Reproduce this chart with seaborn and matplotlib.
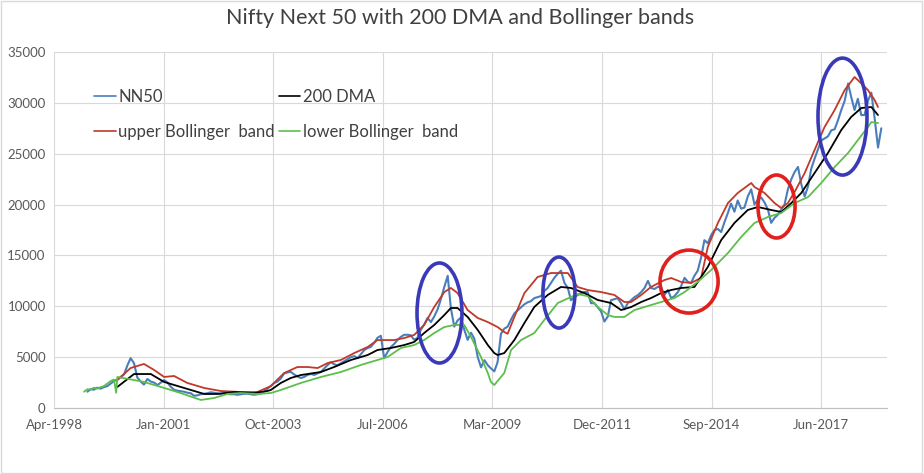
import pandas as pd
import numpy as np
import matplotlib
matplotlib.use("Agg")
import matplotlib.pyplot as plt
import matplotlib.dates as mdates
from matplotlib.patches import Ellipse, Rectangle
import seaborn as sns

# ---- DATA ----
# NN50 monthly closes, Jan-1999 .. Nov-2018
nn50 = [
    1600, 1850, 1800, 2000, 1900, 2050, 2150, 2400, 2650, 2800, 3050, 3300,      # 1999
    4200, 4900, 4400, 3000, 2600, 2300, 2850, 2600, 2500, 2250, 2500, 2750,      # 2000
    2500, 2100, 1800, 1700, 1650, 1600, 1500, 1450, 1200, 1250, 1350, 1400,      # 2001
    1450, 1550, 1500, 1450, 1400, 1450, 1400, 1350, 1350, 1300, 1350, 1400,      # 2002
    1400, 1350, 1300, 1350, 1450, 1600, 1900, 2150, 2450, 2600, 2900, 3400,      # 2003
    3500, 3550, 3300, 3100, 2950, 3050, 3250, 3350, 3250, 3400, 3550, 3900,      # 2004
    4230, 4500, 4300, 4200, 4400, 4600, 4800, 5000, 5100, 4900, 5300, 5700,      # 2005
    5900, 6000, 6400, 6900, 7100, 4900, 5500, 6000, 6300, 6700, 7000, 7200,      # 2006
    7200, 7150, 6700, 6900, 7700, 8200, 8850, 8450, 9000, 9700, 10700, 11900,    # 2007
    13000, 9800, 8000, 8600, 8900, 7700, 6700, 7400, 6800, 5000, 4000, 4700,     # 2008
    4200, 3900, 3600, 4500, 7300, 7800, 8000, 8700, 9300, 9600, 9900, 10200,     # 2009
    10400, 10500, 10800, 10900, 11000, 11500, 11800, 12300, 12800, 13200, 13500, 12300,  # 2010
    11800, 10600, 10900, 11100, 11300, 11400, 11400, 10300, 10300, 9900, 9500, 8500,     # 2011
    9000, 10600, 10700, 10800, 10300, 9700, 10300, 10600, 10900, 11100, 11400, 11800,    # 2012
    12500, 11800, 11700, 11900, 11900, 11100, 11600, 10800, 11000, 11400, 12000, 12800,  # 2013
    12400, 12300, 13000, 13500, 14800, 16500, 16200, 17000, 17500, 17600, 17300, 18300,  # 2014
    19200, 20100, 19300, 20400, 19600, 19700, 20800, 21500, 20000, 20500, 20700, 20200,  # 2015
    19500, 18200, 18700, 19000, 19500, 20000, 21500, 22500, 23200, 23700, 22000, 20800,  # 2016
    21800, 23500, 24500, 25400, 26300, 26500, 26700, 27300, 27400, 28300, 29300, 30200,  # 2017
    31900, 30600, 29300, 30400, 28800, 28800, 30200, 31000, 28500, 25600, 27500,         # 2018
]

dma_months = ['1999-11', '2000-04', '2000-09', '2001-01', '2001-06', '2002-01', '2002-05',
              '2002-10', '2003-04', '2003-08', '2003-09', '2003-12', '2004-03', '2004-06',
              '2004-12', '2005-04', '2005-09', '2006-02', '2006-05', '2006-09', '2007-01',
              '2007-04', '2007-07', '2007-10', '2008-01', '2008-03', '2008-05', '2008-08',
              '2008-11', '2009-02', '2009-04', '2009-05', '2009-07', '2009-10', '2010-01',
              '2010-04', '2010-08', '2010-12', '2011-03', '2011-07', '2011-11', '2012-03',
              '2012-06', '2012-09', '2012-12', '2013-03', '2013-06', '2013-09', '2013-12',
              '2014-04', '2014-08', '2014-12', '2015-04', '2015-08', '2015-11', '2016-03',
              '2016-06', '2016-09', '2016-12', '2017-04', '2017-08', '2017-12', '2018-03',
              '2018-06', '2018-09', '2018-11']
dma_vals = [2070, 3340, 3340, 2560, 2070, 1380, 1380,
            1570, 1470, 1670, 1770, 2460, 2950, 3240,
            3540, 4030, 4720, 5210, 5700, 5900, 6190,
            6490, 7370, 8160, 9140, 9830, 9830, 8950,
            7670, 6190, 5400, 5210, 5400, 6680, 8360,
            9930, 11110, 11900, 11800, 11300, 10620, 10320,
            9630, 9930, 10420, 10810, 11300, 11600, 11800,
            11900, 13860, 16510, 18190, 19470, 19760, 19470,
            19270, 20150, 21140, 23100, 25070, 27330, 28610,
            29490, 29590, 28800]

upper_months = ['1999-11', '2000-03', '2000-07', '2000-10', '2001-01', '2001-04', '2001-08',
                '2002-01', '2002-06', '2002-12', '2003-05', '2003-09', '2004-01', '2004-05',
                '2004-08', '2004-11', '2005-02', '2005-06', '2005-10', '2006-02', '2006-05',
                '2006-10', '2007-01', '2007-04', '2007-07', '2007-10', '2008-01', '2008-03',
                '2008-05', '2008-08', '2008-11', '2009-02', '2009-05', '2009-07', '2009-08',
                '2009-10', '2010-01', '2010-05', '2010-09', '2011-02', '2011-05', '2011-08',
                '2011-12', '2012-04', '2012-07', '2012-09', '2012-12', '2013-03', '2013-07',
                '2013-09', '2013-12', '2014-03', '2014-06', '2014-08', '2014-11', '2015-02',
                '2015-05', '2015-09', '2015-10', '2016-01', '2016-04', '2016-06', '2016-08',
                '2016-10', '2017-01', '2017-04', '2017-07', '2017-10', '2018-01', '2018-04',
                '2018-05', '2018-08', '2018-10', '2018-11']
upper_vals = [2750, 3930, 4330, 3740, 3050, 3150, 2460,
              1970, 1670, 1570, 1570, 2150, 3440, 4030,
              4030, 3930, 4420, 4720, 5400, 6000, 6680,
              6680, 6880, 7180, 8160, 9930, 11400, 11800,
              11300, 9630, 8850, 8450, 7960, 7470, 7300,
              8950, 11300, 12880, 13270, 13270, 11900, 11600,
              11400, 11110, 10420, 10420, 11110, 11900, 12580,
              12780, 12390, 12290, 12800, 15830, 18190, 20150,
              21140, 22120, 21730, 21140, 20150, 19660, 20150,
              21240, 23100, 25360, 27620, 29290, 31260, 32540,
              32240, 31260, 30280, 29590]

# before the first 200 DMA value the lower band column simply repeats the index
lower_months = ['1999-01', '1999-02', '1999-03', '1999-04', '1999-05', '1999-06', '1999-07',
                '1999-08', '1999-09', '1999-10', '1999-11', '1999-11-04', '2000-04', '2000-07',
                '2001-01', '2001-06', '2001-12', '2002-04', '2002-08', '2002-12', '2003-05',
                '2003-09', '2003-12', '2004-06', '2004-12', '2005-06', '2005-12', '2006-05',
                '2006-08', '2006-12', '2007-04', '2007-07', '2007-10', '2008-01', '2008-04',
                '2008-07', '2008-09', '2008-12', '2009-02', '2009-03', '2009-04', '2009-07',
                '2009-09', '2009-12', '2010-04', '2010-07', '2010-11', '2011-03', '2011-05',
                '2011-08', '2011-11', '2012-02', '2012-04', '2012-07', '2012-10', '2013-01',
                '2013-05', '2013-10', '2014-01', '2014-05', '2014-09', '2015-02', '2015-06',
                '2015-10', '2016-02', '2016-06', '2016-10', '2017-02', '2017-06', '2017-10',
                '2018-02', '2018-05', '2018-08', '2018-09', '2018-11']
lower_vals = [1600, 1850, 1800, 2000, 1900, 2050, 2150,
              2400, 2650, 2800, 3050, 1500, 2750, 2560,
              1970, 1470, 790, 980, 1380, 1470, 1380,
              1470, 1770, 2460, 3050, 3540, 4230, 4720,
              5010, 5900, 6190, 6680, 7370, 7960, 8160,
              8160, 6980, 5010, 3440, 2560, 2260, 3440,
              5700, 6680, 7370, 8650, 10320, 10910, 11200,
              11000, 9930, 9140, 8950, 8950, 9630, 9930,
              10320, 10810, 11400, 12400, 13570, 15240, 16810,
              18190, 18780, 19170, 20150, 20740, 22120, 23690,
              25070, 26340, 27620, 28110, 28020]

# circled regions: (centre date, centre value, width in days, height)
blue_circles = [('2007-12-02', 9340, 410, 9830),
                ('2010-11-26', 11350, 292, 6980),
                ('2017-12-26', 28650, 447, 11500)]
red_circles = [('2014-02-25', 12430, 530, 6190),
               ('2016-05-03', 19810, 338, 6190)]


def to_dates(months):
    return pd.to_datetime([m if len(m) > 7 else m + '-15' for m in months])


nn50_df = pd.DataFrame({'date': pd.date_range('1999-01-15', periods=len(nn50), freq='MS') + pd.Timedelta(days=14),
                        'value': nn50})
dma_df = pd.DataFrame({'date': to_dates(dma_months), 'value': dma_vals})
upper_df = pd.DataFrame({'date': to_dates(upper_months), 'value': upper_vals})
lower_df = pd.DataFrame({'date': to_dates(lower_months), 'value': lower_vals})

sns.set_style("white")
plt.rcParams['font.family'] = ['Lato', 'DejaVu Sans']

fig = plt.figure(figsize=(9.24, 4.74), dpi=100)
ax = fig.add_axes([54 / 924, 66 / 474, 833 / 924, 356 / 474])

sns.lineplot(data=nn50_df, x='date', y='value', ax=ax, color='#4a7ebb', lw=1.5, label='NN50')
sns.lineplot(data=upper_df, x='date', y='value', ax=ax, color='#c0392b', lw=1.3, label='upper Bollinger  band')
sns.lineplot(data=dma_df, x='date', y='value', ax=ax, color='black', lw=1.3, label='200 DMA')
sns.lineplot(data=lower_df, x='date', y='value', ax=ax, color='#5cbf4c', lw=1.3, label='lower Bollinger  band')

for c, v, w, h in blue_circles:
    ax.add_patch(Ellipse((mdates.date2num(pd.Timestamp(c)), v), w, h, fill=False,
                         edgecolor='#3a3ab8', lw=2.6, zorder=5))
for c, v, w, h in red_circles:
    ax.add_patch(Ellipse((mdates.date2num(pd.Timestamp(c)), v), w, h, fill=False,
                         edgecolor='#e0201c', lw=2.6, zorder=5))

# excel style date axis: ticks every 1000 days
start = pd.Timestamp('1998-04-16')
ax.set_xlim(start, start + pd.Timedelta(days=7600))
ax.set_xticks([start + pd.Timedelta(days=1000 * k) for k in range(8)])
ax.xaxis.set_major_formatter(mdates.DateFormatter('%b-%Y'))
ax.set_ylim(0, 35000)
ax.set_yticks(range(0, 35001, 5000))
ax.set_xlabel('')
ax.set_ylabel('')

ax.grid(True, color='#d9d9d9', lw=0.8)
ax.set_axisbelow(True)
for s in ['top', 'right', 'left']:
    ax.spines[s].set_visible(False)
ax.spines['bottom'].set_color('#bfbfbf')
ax.tick_params(axis='both', length=0, labelsize=9.5, labelcolor='#595959')
ax.tick_params(axis='x', pad=8)
ax.tick_params(axis='y', pad=6)

handles, labels = ax.get_legend_handles_labels()
leg = ax.legend(handles, labels, ncol=2, loc='upper left', bbox_to_anchor=(0.04, 0.915),
                frameon=False, fontsize=12, handlelength=1.3, handletextpad=0.15,
                columnspacing=0.25, labelspacing=1.15, borderaxespad=0)
for t in leg.get_texts():
    t.set_color('#404040')
for l in leg.get_lines():
    l.set_linewidth(1.2)

fig.text(460 / 924, 1 - 18 / 474, 'Nifty Next 50 with 200 DMA and Bollinger bands',
         ha='center', va='center', fontsize=15.5, color='#404040')

fig.patches.append(Rectangle((0.001, 0.002), 0.997, 0.996, transform=fig.transFigure,
                             fill=False, edgecolor='#d9d9d9', lw=1))

fig.savefig('out.png', dpi=100)
